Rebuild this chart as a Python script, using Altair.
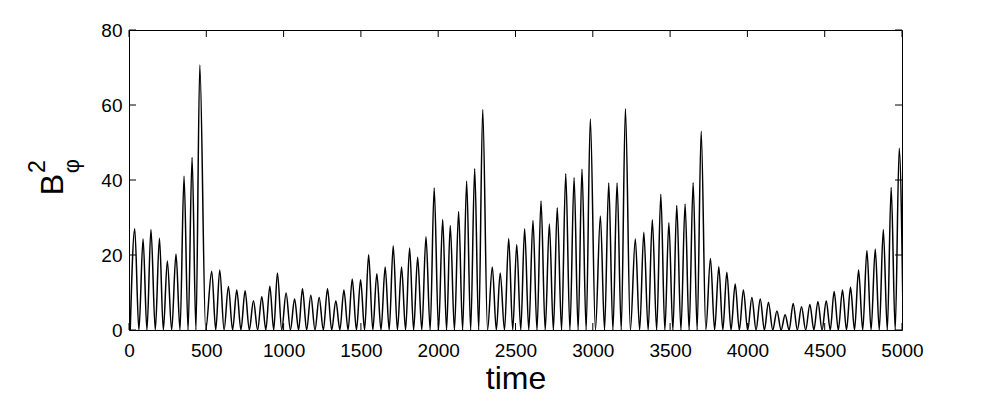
import altair as alt
import pandas as pd

# ---- data ----
peak_time = [37, 91, 142, 197, 248, 304, 356, 408, 458, 535, 587, 643, 697, 751, 805, 859, 911, 960,
             1016, 1071, 1122, 1176, 1230, 1284, 1338, 1390, 1444, 1498, 1550, 1603, 1657,
             1709, 1763, 1815, 1867, 1921, 1974, 2029, 2078, 2132, 2184, 2236, 2288, 2350, 2401,
             2456, 2508, 2559, 2613, 2665, 2719, 2770, 2825, 2879, 2930, 2984, 3049, 3103, 3157,
             3211, 3275, 3330,
             3385, 3440, 3492, 3543, 3597, 3649, 3701, 3761, 3815, 3867, 3921, 3974, 4029, 4083,
             4136, 4191, 4244, 4296, 4350, 4404, 4456, 4510, 4561, 4615, 4667, 4719, 4773, 4827,
             4879, 4930, 4982]
peak_value = [27.0, 24.3, 26.8, 24.5, 18.4, 20.3, 41.0, 46.0, 70.7, 15.7, 16.0, 11.6, 10.7, 10.5,
              7.8, 8.9, 11.7, 15.2, 9.9, 8.3, 11.0, 9.3, 8.7, 11.0, 7.8, 10.7, 13.6, 13.4, 20.1,
              15.0, 16.8,
              22.5, 16.8, 21.9, 19.4, 24.9, 37.9, 29.5, 27.9, 31.6, 39.7, 43.0, 58.8, 16.8, 15.2,
              24.4, 22.8, 27.0, 29.2, 34.4, 28.3, 32.6, 41.7, 40.6, 42.9, 56.3, 30.4, 39.2, 39.2,
              59.0, 24.3, 26.1,
              29.4, 36.2, 28.6, 33.2, 33.6, 39.3, 53.0, 19.1, 16.9, 15.4, 12.3, 10.7, 8.7, 8.3,
              7.4, 5.1, 4.1, 7.1, 6.2, 6.8, 7.6, 7.8, 10.3, 10.7, 11.4, 16.0, 21.2, 21.6, 26.8,
              38.0, 48.5]
zero_time = [8, 64, 116, 170, 222, 276, 330, 382, 433, 496, 561, 615, 670, 724, 778, 832, 885, 936,
             988, 1044, 1097, 1149, 1203, 1257, 1311, 1364, 1417, 1471, 1524, 1577, 1630, 1683,
             1736, 1789, 1841, 1894, 1948, 2002, 2054, 2105, 2158, 2210, 2262, 2319, 2376, 2429,
             2482, 2534, 2586, 2639, 2692, 2745, 2798, 2852, 2905, 2957, 3017, 3076, 3130, 3184,
             3243, 3303, 3358, 3413, 3466, 3518, 3570, 3623, 3675, 3731, 3788, 3841, 3894, 3948,
             4002, 4056, 4110, 4164, 4218, 4270, 4323, 4377, 4430, 4483, 4536, 4588, 4641, 4693,
             4746, 4800, 4853, 4905, 4956, 5008]
x_ticks = [0, 500, 1000, 1500, 2000, 2500, 3000, 3500, 4000, 4500, 5000]
y_ticks = [0, 20, 40, 60, 80]

df = pd.DataFrame({
    "time": peak_time + zero_time,
    "B2": peak_value + [0.0] * len(zero_time),
}).sort_values("time").reset_index(drop=True)

W, H = 773, 300
TICK = 7
FONT = "Liberation Sans"

xscale = alt.Scale(domain=[0, 5000], nice=False, zero=False)
yscale = alt.Scale(domain=[0, 80], nice=False)

x_axis = alt.Axis(
    values=x_ticks, title="time", ticks=False, tickSize=0, domain=False, grid=False,
    labelPadding=11, labelFontSize=19, labelFont=FONT, labelColor="black",
    labelFlush=False, format="d",
    titleFontSize=32, titleFont=FONT, titleFontWeight="normal", titleColor="black",
    titleY=58, titleBaseline="alphabetic")
y_axis = alt.Axis(
    values=y_ticks, title=None, ticks=False, tickSize=0, domain=False, grid=False,
    labelPadding=7, labelFontSize=19, labelFont=FONT, labelColor="black",
    labelFlush=False, format="d")

line = alt.Chart(df).mark_line(
    interpolate="monotone", color="black", strokeWidth=1.5, clip=True
).encode(
    x=alt.X("time:Q", scale=xscale, axis=x_axis),
    y=alt.Y("B2:Q", scale=yscale, axis=y_axis),
)

xt = pd.DataFrame({"time": x_ticks})
yt = pd.DataFrame({"B2": y_ticks})

bottom_ticks = alt.Chart(xt).mark_rule(color="black", strokeWidth=1).encode(
    x=alt.X("time:Q", scale=xscale, axis=x_axis), y=alt.value(H), y2=alt.value(H - TICK))
top_ticks = alt.Chart(xt).mark_rule(color="black", strokeWidth=1).encode(
    x=alt.X("time:Q", scale=xscale, axis=x_axis), y=alt.value(0), y2=alt.value(TICK))
left_ticks = alt.Chart(yt).mark_rule(color="black", strokeWidth=1).encode(
    y=alt.Y("B2:Q", scale=yscale, axis=y_axis), x=alt.value(0), x2=alt.value(TICK))
right_ticks = alt.Chart(yt).mark_rule(color="black", strokeWidth=1).encode(
    y=alt.Y("B2:Q", scale=yscale, axis=y_axis), x=alt.value(W), x2=alt.value(W - TICK))

def label(txt, size, x, y):
    return alt.Chart(pd.DataFrame({"s": [txt]})).mark_text(
        angle=270, fontSize=size, font=FONT, align="center", baseline="alphabetic",
        color="black"
    ).encode(text="s:N", x=alt.value(x), y=alt.value(y))

ylab_B = label("B", 32, -66, 154.5)
ylab_2 = label("2", 23, -84, 136.5)
ylab_phi = label("φ", 22, -50, 136)

chart = alt.layer(
    line, bottom_ticks, top_ticks, left_ticks, right_ticks, ylab_B, ylab_2, ylab_phi
).properties(
    width=W, height=H,
    autosize=alt.AutoSizeParams(type="none"),
    padding={"left": 121, "top": 22, "right": 86, "bottom": 64},
).configure(
    background="white"
).configure_view(
    stroke="black", strokeWidth=1
)

chart.save("out.html", embed_options={"renderer": "svg", "actions": False})
